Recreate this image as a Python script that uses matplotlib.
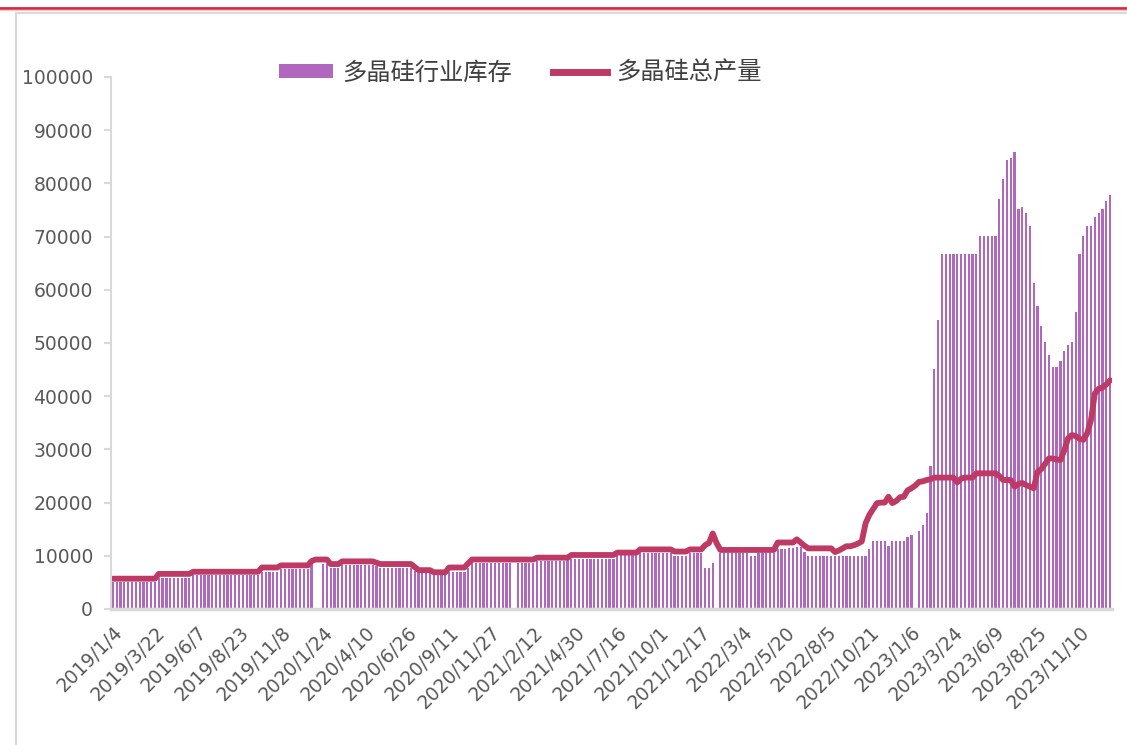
import numpy as np
import matplotlib
matplotlib.use("Agg")
import matplotlib.pyplot as plt
from matplotlib.lines import Line2D
from matplotlib.patches import Patch
from matplotlib.font_manager import FontProperties

# =====================================
# DATA (weekly, 2019/1/4 - 2024/1/5)
# =====================================

nan = np.nan

# 多晶硅行业库存 (bars)
inventory = [
    5100, 5100, 5100, 5100, 5100, 5100, 5100, 5100, 5100, 5100,
    5100, 5100, 5900, 5900, 5900, 5900, 5900, 5900, 5900, 5900,
    5900, 6300, 6300, 6300, 6300, 6300, 6300, 6300, 6300, 6300,
    6300, 6300, 6300, 6300, 6300, 6300, 6300, 6300, 6300, 7000,
    7000, 7000, 7000, 7000, 7500, 7500, 7500, 7500, 7500, 7500,
    7500, 7500, 8500, nan, nan, 8500, 8500, 7800, 7800, 7800,
    8200, 8200, 8200, 8200, 8200, 8200, 8200, 8200, 8200, 8000,
    7800, 7800, 7800, 7800, 7800, 7800, 7800, 7800, 7800, 7200,
    6700, 6700, 6700, 6700, 6300, 6300, 6300, 6300, 7000, 7000,
    7000, 7000, 7000, 7800, 8600, 8600, 8600, 8600, 8600, 8600,
    8600, 8600, 8600, 8600, 8600, nan, 8600, 8600, 8600, 8600,
    8600, 9000, 9000, 9000, 9000, 9000, 9000, 9000, 9000, 9400,
    9400, 9400, 9400, 9400, 9400, 9400, 9400, 9400, 9400, 9400,
    9400, 9400, 10150, 10150, 10150, 10150, 10150, 10150, 10460, 10460,
    10460, 10460, 10460, 10460, 10460, 10460, 10460, 10020, 10020, 10020,
    10020, 10460, 10460, 10460, 10460, 7650, 7650, 8580, nan, 10460,
    10460, 10460, 10460, 10460, 10460, 10460, 10460, 10020, 10020, 10460,
    10460, 10460, 10460, 10460, 11220, 11220, 11220, 11400, 11400, 11700,
    11700, 10770, 10020, 10020, 10020, 10020, 10020, 10020, 10020, 10020,
    10020, 10020, 10020, 10020, 10020, 10020, 10020, 10020, 11220, 12720,
    12720, 12720, 12720, 11900, 12720, 12720, 12720, 12720, 13470, 13910,
    nan, 14660, 15790, 18100, 26900, 45100, 54300, 66670, 66670, 66670,
    66670, 66670, 66670, 66670, 66670, 66670, 66670, 70110, 70110, 70110,
    70110, 70110, 77070, 80830, 84400, 84710, 85900, 75130, 75500, 74370,
    71990, 61220, 57020, 53200, 50120, 47740, 45490, 45490, 46620, 48560,
    49620, 50120, 55830, 66670, 70110, 71990, 71990, 73620, 74370, 75130,
    76690, 77820,
]

# 多晶硅总产量 (line)
production = [
    5700, 5700, 5700, 5700, 5700, 5700, 5700, 5700, 5700, 5700,
    5700, 5700, 6600, 6600, 6600, 6600, 6600, 6600, 6600, 6600,
    6600, 7000, 7000, 7000, 7000, 7000, 7000, 7000, 7000, 7000,
    7000, 7000, 7000, 7000, 7000, 7000, 7000, 7000, 7000, 7800,
    7800, 7800, 7800, 7800, 8200, 8200, 8200, 8200, 8200, 8200,
    8200, 8200, 9000, 9300, 9300, 9300, 9300, 8450, 8450, 8450,
    8950, 8950, 8950, 8950, 8950, 8950, 8950, 8950, 8950, 8700,
    8450, 8450, 8450, 8450, 8450, 8450, 8450, 8450, 8450, 7900,
    7300, 7300, 7300, 7300, 6900, 6900, 6900, 6900, 7800, 7800,
    7800, 7800, 7800, 8600, 9300, 9300, 9300, 9300, 9300, 9300,
    9300, 9300, 9300, 9300, 9300, 9300, 9300, 9300, 9300, 9300,
    9300, 9650, 9650, 9650, 9650, 9650, 9650, 9650, 9650, 9650,
    10150, 10150, 10150, 10150, 10150, 10150, 10150, 10150, 10150, 10150,
    10150, 10150, 10600, 10600, 10600, 10600, 10600, 10600, 11200, 11200,
    11200, 11200, 11200, 11200, 11200, 11200, 11200, 10800, 10800, 10800,
    10800, 11200, 11200, 11200, 11200, 12000, 12400, 14200, 12400, 11100,
    11100, 11100, 11100, 11100, 11100, 11100, 11100, 11100, 11100, 11100,
    11100, 11100, 11100, 11100, 12500, 12500, 12500, 12500, 12500, 13100,
    12500, 11900, 11400, 11400, 11400, 11400, 11400, 11400, 11400, 10700,
    11000, 11400, 11800, 11800, 12000, 12300, 12700, 16100, 17700, 18800,
    19900, 20000, 20000, 21100, 19900, 20300, 21000, 21100, 22300, 22700,
    23200, 23900, 24000, 24250, 24400, 24700, 24700, 24700, 24700, 24700,
    24700, 23800, 24500, 24700, 24700, 24700, 25500, 25500, 25500, 25500,
    25500, 25500, 25000, 24250, 24250, 24250, 23000, 23500, 23700, 23300,
    23000, 22700, 25800, 26300, 27300, 28300, 28300, 28100, 28000, 29800,
    32100, 32700, 32500, 32000, 31800, 33000, 35500, 40500, 41400, 41600,
    42200, 43000,
]

tick_labels = [
    "2019/1/4", "2019/3/22", "2019/6/7", "2019/8/23", "2019/11/8",
    "2020/1/24", "2020/4/10", "2020/6/26", "2020/9/11", "2020/11/27",
    "2021/2/12", "2021/4/30", "2021/7/16", "2021/10/1", "2021/12/17",
    "2022/3/4", "2022/5/20", "2022/8/5", "2022/10/21", "2023/1/6",
    "2023/3/24", "2023/6/9", "2023/8/25", "2023/11/10",
]
tick_step = 11

series_names = ["多晶硅行业库存", "多晶硅总产量"]

# =====================================
# STYLE
# =====================================

BAR_COLOR = "#b068bf"
LINE_COLOR = "#be3a64"
TEXT_COLOR = "#595959"
AXIS_COLOR = "#d9d9d9"

plt.rcParams['font.family'] = ['DejaVu Sans', 'Noto Sans CJK SC']

fig = plt.figure(figsize=(11.27, 7.45), dpi=100)
ax = fig.add_axes([111 / 1127, 1 - 609 / 745, (1112 - 111) / 1127, (609 - 77) / 745])

x = np.arange(len(inventory))

ax.bar(x, inventory, width=0.58, color=BAR_COLOR, linewidth=0)
ax.plot(x, production, color=LINE_COLOR, linewidth=4.2,
        solid_capstyle="round", solid_joinstyle="round")

ax.set_xlim(-0.5, len(inventory) - 0.5)
ax.set_ylim(0, 100000)
ax.set_yticks(np.arange(0, 100001, 10000))
ax.tick_params(axis="y", labelsize=13.5, labelcolor=TEXT_COLOR,
               color=AXIS_COLOR, length=5, width=1.5, pad=8)

ax.set_xticks(np.arange(len(tick_labels)) * tick_step)
ax.set_xticklabels(tick_labels, rotation=45, ha="right", va="top",
                   rotation_mode="anchor", fontsize=13.5, color=TEXT_COLOR)
ax.tick_params(axis="x", length=0, pad=10)

for side in ["top", "right"]:
    ax.spines[side].set_visible(False)
ax.spines["left"].set_color(AXIS_COLOR)
ax.spines["left"].set_linewidth(1.5)
ax.spines["bottom"].set_color(AXIS_COLOR)
ax.spines["bottom"].set_linewidth(2.5)

# legend
handles = [
    Patch(facecolor=BAR_COLOR, edgecolor="none"),
    Line2D([0], [0], color=LINE_COLOR, linewidth=5),
]
ax.legend(handles, series_names, loc="center",
          bbox_to_anchor=(0.462, 0.902), bbox_transform=fig.transFigure,
          ncol=2, frameon=False, handlelength=2.2, handleheight=0.5,
          columnspacing=1.7, handletextpad=0.4,
          prop=FontProperties(family="Noto Sans CJK SC", size=17.5),
          labelcolor="#404040")

# frame decorations
fig.add_artist(Line2D([0, 1], [1 - 7.5 / 745] * 2, transform=fig.transFigure,
                      color="#d42a3a", linewidth=2))
fig.add_artist(Line2D([0, 1], [1 - 10 / 745] * 2, transform=fig.transFigure,
                      color="#f2c4c8", linewidth=1))
fig.add_artist(Line2D([16 / 1127, 16 / 1127], [0, 1 - 13 / 745],
                      transform=fig.transFigure, color=AXIS_COLOR, linewidth=1.5))
fig.add_artist(Line2D([16 / 1127, 1], [1 - 13 / 745] * 2,
                      transform=fig.transFigure, color=AXIS_COLOR, linewidth=1.5))

fig.savefig("out.png", dpi=100)
plt.close(fig)
